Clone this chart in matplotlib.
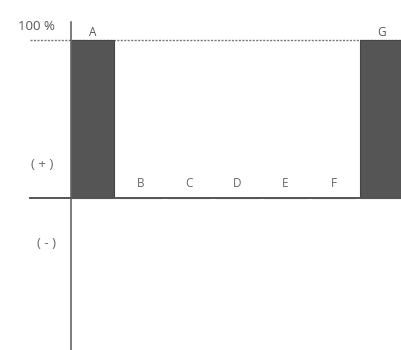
import matplotlib
matplotlib.use("Agg")
import matplotlib.pyplot as plt

categories = ["A", "B", "C", "D", "E", "F", "G"]
values = [100, 0, 0, 0, 0, 0, 100]
ref_label = "100 %"
pos_label = "( + )"
neg_label = "( - )"

plt.rcParams['font.family'] = ['Open Sans', 'DejaVu Sans']

fig = plt.figure(figsize=(4.01, 3.5), dpi=100)
ax = fig.add_axes([0, 0, 1, 1])
ax.set_xlim(-1.919, 6.4)
ax.set_ylim(-96.2, 125.3)
ax.axis('off')

x = list(range(len(categories)))
ax.bar(x, values, width=0.89, color='#555555', edgecolor='#444444', linewidth=0.8, zorder=2)

# axes lines
ax.plot([-0.445, -0.445], [-96.2, 111.4], color='#666666', lw=1.2, zorder=3)
ax.plot([-1.297, 6.4], [0, 0], color='#555555', lw=1.4, zorder=3)
ax.plot([-1.297, 6.4], [100, 100], color='#777777', lw=1.0, ls=(0, (1.5, 1)), zorder=1)

for xi, c, v in zip(x, categories, values):
    if v > 0:
        ax.text(xi, v + 0.5, c, ha='center', va='bottom',
                fontsize=8.5, color='#555555')
    else:
        ax.text(xi, 5, c, ha='center', va='bottom', fontsize=8.5, color='#666666')

ax.text(-1.17, 104.5, ref_label, ha='center', va='bottom', fontsize=9.5, color='#555555')
ax.text(-1.05, 21, pos_label, ha='center', va='center', fontsize=9.5, color='#666666')
ax.text(-0.96, -28.5, neg_label, ha='center', va='center', fontsize=9.5, color='#666666')

fig.savefig("out.png", dpi=100)
